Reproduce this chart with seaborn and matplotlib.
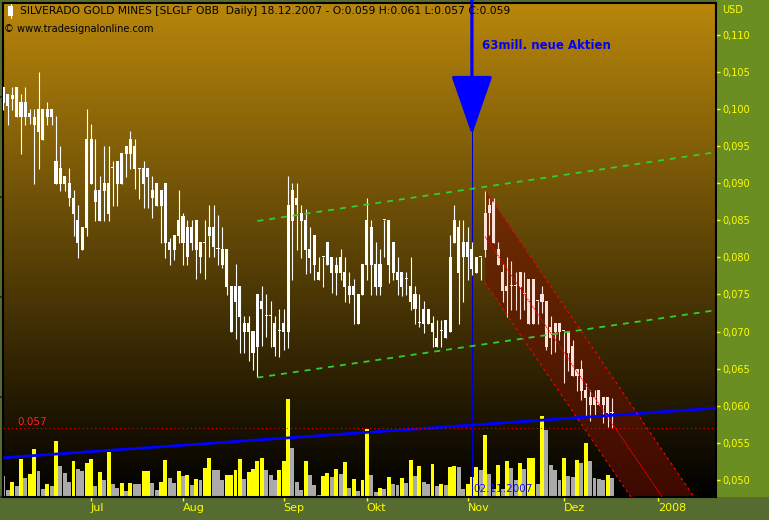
import numpy as np
import pandas as pd
import matplotlib
matplotlib.use("Agg")
import matplotlib.pyplot as plt
import seaborn as sns
from matplotlib.colors import LinearSegmentedColormap
from matplotlib.patches import Rectangle
from matplotlib.lines import Line2D

sns.set_theme(style="white")
plt.rcParams['font.family'] = ['DejaVu Sans']

# ---------------- data (daily candles, SLGLF, Jun-Dec 2007) ----------------
open_ = [0.1030, 0.1020, 0.1013, 0.1030, 0.0989, 0.1009, 0.0989, 0.0978, 0.1000, 0.1000,
         0.0989, 0.1000, 0.0899, 0.0920, 0.0910, 0.0900, 0.0858, 0.0850, 0.0841, 0.0839,
         0.0899, 0.0891, 0.0849, 0.0900, 0.0858, 0.0920, 0.0930, 0.0899, 0.0950, 0.0939,
         0.0950, 0.0920, 0.0899, 0.0908, 0.0891, 0.0900, 0.0869, 0.0819, 0.0821, 0.0830,
         0.0829, 0.0856, 0.0800, 0.0841, 0.0810, 0.0821, 0.0819, 0.0829, 0.0841, 0.0811,
         0.0811, 0.0760, 0.0699, 0.0740, 0.0720, 0.0712, 0.0699, 0.0671, 0.0679, 0.0730,
         0.0721, 0.0721, 0.0712, 0.0701, 0.0699, 0.0699, 0.0891, 0.0880, 0.0860, 0.0810,
         0.0811, 0.0830, 0.0780, 0.0800, 0.0790, 0.0800, 0.0779, 0.0800, 0.0760, 0.0761,
         0.0749, 0.0751, 0.0749, 0.0790, 0.0841, 0.0791, 0.0760, 0.0850, 0.0790, 0.0821,
         0.0780, 0.0760, 0.0771, 0.0740, 0.0751, 0.0712, 0.0730, 0.0730, 0.0699, 0.0692,
         0.0701, 0.0716, 0.0699, 0.0819, 0.0841, 0.0821, 0.0800, 0.0784, 0.0779, 0.0800,
         0.0810, 0.0871, 0.0876, 0.0790, 0.0780, 0.0755, 0.0761, 0.0761, 0.0760, 0.0751,
         0.0710, 0.0710, 0.0741, 0.0740, 0.0741, 0.0706, 0.0712, 0.0712, 0.0701, 0.0701,
         0.0681, 0.0640, 0.0650, 0.0610, 0.0612, 0.0612, 0.0621, 0.0612, 0.0590, 0.0590]
high = [0.1030, 0.1020, 0.1030, 0.1030, 0.1020, 0.1030, 0.1000, 0.1000, 0.1050, 0.1000,
        0.1009, 0.1000, 0.0990, 0.0950, 0.0910, 0.0920, 0.0891, 0.0871, 0.0841, 0.1000,
        0.0980, 0.0959, 0.0910, 0.0950, 0.0950, 0.0930, 0.0930, 0.0941, 0.0950, 0.0970,
        0.0959, 0.0920, 0.0930, 0.0920, 0.0910, 0.0900, 0.0891, 0.0900, 0.0826, 0.0830,
        0.0891, 0.0860, 0.0850, 0.0850, 0.0850, 0.0821, 0.0850, 0.0871, 0.0871, 0.0857,
        0.0841, 0.0811, 0.0761, 0.0791, 0.0761, 0.0721, 0.0721, 0.0701, 0.0751, 0.0761,
        0.0751, 0.0741, 0.0721, 0.0730, 0.0730, 0.0910, 0.0900, 0.0900, 0.0871, 0.0865,
        0.0841, 0.0830, 0.0800, 0.0800, 0.0821, 0.0800, 0.0800, 0.0811, 0.0800, 0.0780,
        0.0771, 0.0751, 0.0791, 0.0880, 0.0850, 0.0821, 0.0811, 0.0850, 0.0850, 0.0821,
        0.0800, 0.0780, 0.0780, 0.0800, 0.0761, 0.0751, 0.0741, 0.0730, 0.0721, 0.0716,
        0.0716, 0.0716, 0.0830, 0.0871, 0.0850, 0.0850, 0.0841, 0.0821, 0.0800, 0.0800,
        0.0891, 0.0880, 0.0880, 0.0821, 0.0791, 0.0800, 0.0795, 0.0780, 0.0780, 0.0780,
        0.0771, 0.0771, 0.0741, 0.0761, 0.0741, 0.0721, 0.0712, 0.0712, 0.0701, 0.0701,
        0.0689, 0.0650, 0.0662, 0.0631, 0.0621, 0.0621, 0.0621, 0.0612, 0.0612, 0.0610]
low = [0.0999, 0.0978, 0.0999, 0.0989, 0.0939, 0.0978, 0.0980, 0.0899, 0.0919, 0.0958,
       0.0978, 0.0978, 0.0899, 0.0889, 0.0889, 0.0869, 0.0829, 0.0799, 0.0810, 0.0829,
       0.0899, 0.0849, 0.0849, 0.0849, 0.0849, 0.0869, 0.0869, 0.0899, 0.0908, 0.0919,
       0.0892, 0.0879, 0.0867, 0.0867, 0.0853, 0.0869, 0.0819, 0.0799, 0.0790, 0.0796,
       0.0819, 0.0790, 0.0790, 0.0810, 0.0771, 0.0779, 0.0771, 0.0800, 0.0800, 0.0790,
       0.0786, 0.0749, 0.0699, 0.0690, 0.0671, 0.0671, 0.0660, 0.0648, 0.0639, 0.0681,
       0.0693, 0.0679, 0.0667, 0.0666, 0.0675, 0.0678, 0.0769, 0.0810, 0.0799, 0.0778,
       0.0779, 0.0769, 0.0769, 0.0760, 0.0790, 0.0752, 0.0749, 0.0769, 0.0740, 0.0738,
       0.0710, 0.0710, 0.0749, 0.0769, 0.0749, 0.0749, 0.0749, 0.0800, 0.0765, 0.0769,
       0.0749, 0.0748, 0.0749, 0.0729, 0.0710, 0.0706, 0.0698, 0.0710, 0.0679, 0.0679,
       0.0679, 0.0692, 0.0699, 0.0819, 0.0710, 0.0740, 0.0769, 0.0776, 0.0779, 0.0769,
       0.0800, 0.0830, 0.0819, 0.0790, 0.0740, 0.0720, 0.0729, 0.0729, 0.0717, 0.0729,
       0.0710, 0.0710, 0.0710, 0.0725, 0.0675, 0.0670, 0.0673, 0.0689, 0.0631, 0.0647,
       0.0640, 0.0620, 0.0608, 0.0586, 0.0579, 0.0586, 0.0601, 0.0577, 0.0571, 0.0570]
close = [0.1008, 0.1004, 0.1019, 0.0989, 0.1009, 0.0989, 0.0995, 0.0989, 0.0969, 0.0958,
         0.1000, 0.0989, 0.0930, 0.0899, 0.0899, 0.0880, 0.0880, 0.0819, 0.0810, 0.0959,
         0.0959, 0.0875, 0.0891, 0.0889, 0.0900, 0.0920, 0.0899, 0.0941, 0.0939, 0.0959,
         0.0919, 0.0919, 0.0920, 0.0920, 0.0880, 0.0869, 0.0891, 0.0900, 0.0810, 0.0810,
         0.0850, 0.0819, 0.0841, 0.0819, 0.0850, 0.0800, 0.0819, 0.0841, 0.0814, 0.0811,
         0.0790, 0.0811, 0.0761, 0.0761, 0.0761, 0.0699, 0.0712, 0.0701, 0.0751, 0.0741,
         0.0721, 0.0721, 0.0679, 0.0701, 0.0712, 0.0871, 0.0849, 0.0871, 0.0849, 0.0850,
         0.0799, 0.0790, 0.0769, 0.0800, 0.0821, 0.0779, 0.0790, 0.0779, 0.0780, 0.0749,
         0.0761, 0.0710, 0.0791, 0.0850, 0.0790, 0.0760, 0.0791, 0.0850, 0.0850, 0.0779,
         0.0769, 0.0780, 0.0771, 0.0761, 0.0730, 0.0712, 0.0710, 0.0710, 0.0712, 0.0679,
         0.0701, 0.0692, 0.0800, 0.0850, 0.0779, 0.0800, 0.0821, 0.0811, 0.0800, 0.0800,
         0.0860, 0.0860, 0.0819, 0.0811, 0.0755, 0.0761, 0.0761, 0.0761, 0.0780, 0.0751,
         0.0771, 0.0771, 0.0741, 0.0751, 0.0679, 0.0692, 0.0699, 0.0699, 0.0701, 0.0671,
         0.0640, 0.0650, 0.0620, 0.0621, 0.0601, 0.0601, 0.0601, 0.0601, 0.0612, 0.0590]
# volume (relative units) and colour of the volume bar (1 = yellow/up, 0 = grey/down)
volume = [21, 7, 15, 11, 38, 19, 23, 48, 26, 8, 13, 11, 56, 31, 24, 15, 36, 28, 26, 34,
          38, 11, 25, 17, 45, 13, 9, 14, 6, 14, 13, 13, 26, 26, 14, 7, 15, 37, 19, 14,
          26, 21, 22, 12, 18, 17, 29, 39, 27, 27, 17, 22, 22, 27, 38, 18, 25, 28, 36, 39,
          27, 22, 17, 27, 36, 98, 49, 15, 7, 36, 22, 12, 2, 21, 24, 20, 28, 23, 35, 9,
          18, 6, 17, 68, 22, 5, 9, 8, 20, 13, 12, 19, 14, 37, 21, 31, 15, 13, 33, 11,
          13, 12, 30, 31, 30, 8, 13, 20, 30, 27, 62, 23, 8, 32, 8, 36, 29, 17, 34, 28,
          39, 39, 13, 81, 67, 32, 27, 17, 39, 21, 20, 37, 34, 54, 36, 19, 18, 17, 22, 19]
volume_up = [0, 0, 1, 0, 1, 0, 1, 1, 0, 0, 1, 0, 1, 0, 0, 0, 1, 0, 0, 1,
             1, 0, 1, 0, 1, 0, 0, 1, 0, 1, 0, 0, 1, 1, 0, 0, 1, 1, 0, 0,
             1, 0, 1, 0, 1, 0, 1, 1, 0, 0, 0, 1, 1, 1, 1, 0, 1, 1, 1, 1,
             0, 0, 0, 1, 1, 1, 0, 0, 0, 1, 0, 0, 0, 1, 1, 0, 1, 0, 1, 0,
             1, 0, 1, 1, 0, 0, 1, 0, 1, 0, 0, 1, 0, 1, 0, 1, 0, 0, 1, 0,
             1, 0, 1, 1, 0, 0, 1, 1, 1, 0, 1, 0, 0, 1, 0, 1, 0, 0, 1, 0,
             1, 1, 0, 1, 0, 0, 0, 0, 1, 0, 0, 1, 0, 1, 0, 0, 0, 0, 1, 0]

month_pos = [20, 41, 64, 83, 106, 128, 149.5]
month_labels = ["Jul", "Aug", "Sep", "Okt", "Nov", "Dez", "2008"]
price_ticks = [0.050, 0.055, 0.060, 0.065, 0.070, 0.075, 0.080, 0.085, 0.090, 0.095,
               0.100, 0.105, 0.110]

# drawn analysis lines (bar index, price)
green_x = [58, 163]
green_upper = [0.0849, 0.0942]
green_lower = [0.0638, 0.0729]
blue_x = [-0.1, 162.9]
blue_y = [0.0530, 0.0597]
reg_x = [110, 165]
reg_center = [0.0828, 0.0351]
reg_upper = [0.0891, 0.0414]
reg_lower = [0.0766, 0.0289]
level_057 = 0.057
event_idx = 107
event_price = 0.0965

title = ("SILVERADO GOLD MINES [SLGLF OBB  Daily] 18.12.2007 - "
         "O:0.059 H:0.061 L:0.057 C:0.059")

# ---------------- figure ----------------
W, H = 769, 520
fig = plt.figure(figsize=(W / 100, H / 100), dpi=100, facecolor="#556b2f")
L, R, B, T = 3 / W, 716 / W, (H - 497) / H, (H - 3) / H
fig.add_artist(Rectangle((R, B), 1 - R, 1 - B, transform=fig.transFigure,
                         facecolor="#6b8e23", edgecolor="none", zorder=-5))
axv = fig.add_axes([L, B, R - L, T - B])

# gradient background
cmap = LinearSegmentedColormap.from_list("bg", ["#000000", "#b8860b"])
grad = np.linspace(1, 0, 256).reshape(-1, 1)
axv.imshow(grad, cmap=cmap, aspect="auto", extent=[0, 1, 0, 1],
           transform=axv.transAxes, zorder=0)

idx = np.arange(len(close))
df = pd.DataFrame({"idx": idx, "volume": volume,
                   "dir": np.where(np.array(volume_up) == 1, "up", "down")})
sns.barplot(data=df, x="idx", y="volume", hue="dir",
            palette={"up": "#ffff00", "down": "#aaaaaa"},
            native_scale=True, dodge=False, width=0.9, saturation=1,
            legend=False, errorbar=None, linewidth=0, ax=axv, zorder=2)
axv.set_xlim(-0.11, 162.75)
axv.set_ylim(0, 494)
axv.set_xlabel("")
axv.set_ylabel("")
axv.tick_params(axis="y", left=False, labelleft=False)
axv.set_xticks(month_pos)
axv.set_xticklabels(month_labels, ha="left")
axv.tick_params(axis="x", colors="#ffff00", length=3, width=1, pad=1,
                labelsize=8, direction="out", bottom=True)
for s in axv.spines.values():
    s.set_visible(False)

ax = axv.twinx()
ax.set_ylim(0.04771, 0.11427)
ax.set_yticks(price_ticks)
ax.set_yticklabels([f"{v:.3f}".replace(".", ",") for v in price_ticks])
ax.tick_params(axis="y", colors="#ffff00", length=3, width=1, pad=1.5,
               labelsize=7, direction="out", right=True)
for s in ax.spines.values():
    s.set_color("black")
    s.set_linewidth(1.5)

o = np.array(open_); c = np.array(close); hi = np.array(high); lo = np.array(low)
top = np.maximum(o, c)
bot = np.minimum(o, c)
body = np.maximum(top - bot, 0.00014)
in_channel = idx >= reg_x[0]
cols = np.where(in_channel, "#ffe2dc", "#ffffff")

# regression channel fill
ax.fill_between(reg_x, reg_upper, reg_lower, color="#701000", alpha=0.55,
                linewidth=0, zorder=1)
# candles
ax.vlines(idx, lo, hi, colors=cols, linewidth=0.8, zorder=4)
ax.bar(idx, body, bottom=bot, width=0.7, color=cols, linewidth=0, zorder=4)

# lines
ax.plot(blue_x, blue_y, color="#0000ff", lw=2, zorder=5, solid_capstyle="butt")
ax.axhline(level_057, color="#ff0000", lw=0.75, ls=(0, (1, 3)), zorder=5)
ax.text(3.2, level_057 + 0.00015, "0.057", color="#ff2020", fontsize=7.5,
        va="bottom", ha="left", zorder=6)
ax.plot(green_x, green_upper, color="#32cd32", lw=1.3, ls=(0, (3.3, 3.3)), zorder=5)
ax.plot(green_x, green_lower, color="#32cd32", lw=1.3, ls=(0, (3.3, 3.3)), zorder=5)
ax.plot(reg_x, reg_upper, color="#ff0000", lw=0.8, ls=(0, (2.5, 3)), zorder=5)
ax.plot(reg_x, reg_lower, color="#ff0000", lw=0.8, ls=(0, (2.5, 3)), zorder=5)
ax.plot(reg_x, reg_center, color="#ff0000", lw=0.8, ls=(0, (1.2, 0.8)), zorder=5)

# event marker
ax.axvline(event_idx, color="#0000cc", lw=0.75, zorder=3)
ax.annotate("", xy=(event_idx, event_price), xytext=(event_idx, 0.1150),
            arrowprops=dict(arrowstyle="-|>,head_length=1.35,head_width=0.47",
                            color="#0000ff", lw=2.3, mutation_scale=28,
                            shrinkA=0, shrinkB=0),
            annotation_clip=False, zorder=7)
ax.text(109.3, 0.1085, "63mill. neue Aktien", color="#0000ff", fontsize=8.5,
        fontweight="bold", va="center", ha="left", zorder=7)
ax.text(107.3, 0.0488, "02.11.2007", color="#1010ff", fontsize=7.5,
        va="center", ha="left", zorder=7)

ax.set_xlim(-0.11, 162.75)

# header texts
fig.add_artist(Line2D([10.5 / W, 10.5 / W], [1 - 18 / H, 1 - 4 / H],
                      transform=fig.transFigure, color="white", lw=0.8, zorder=10))
fig.add_artist(Rectangle((8 / W, 1 - 16 / H), 5 / W, 10 / H, transform=fig.transFigure,
                         facecolor="white", edgecolor="none", zorder=10))
fig.text(20 / W, 1 - 11 / H, title, fontsize=7.75, color="black", va="center", ha="left")
fig.text(4 / W, 1 - 29 / H, "\u00a9 www.tradesignalonline.com", fontsize=7.1,
         color="black", va="center", ha="left")
fig.text(722 / W, 1 - 10 / H, "USD", fontsize=7, color="#ffff00", va="center", ha="left")

fig.savefig("out.png", dpi=100, facecolor=fig.get_facecolor())
